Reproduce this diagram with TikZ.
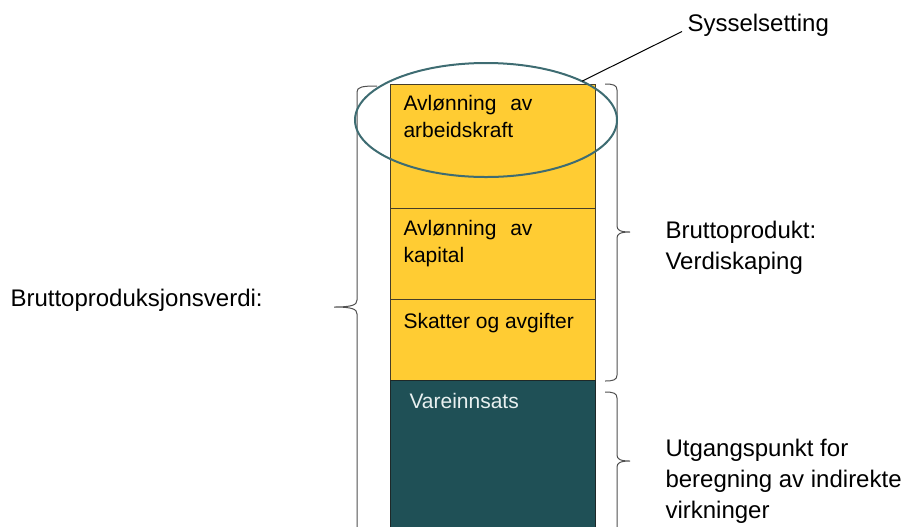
\documentclass[tikz,border=0pt]{standalone}
\usepackage{fontspec}
\setmainfont{Liberation Sans}
\usetikzlibrary{shapes.geometric}

\tikzset{every picture/.style={line width=0.75pt}}
\tikzset{
  bar/.style={draw={rgb, 255:red, 70; green, 62; blue, 40 }, fill={rgb, 255:red, 255; green, 204; blue, 51 }, minimum width=153.75pt, inner sep=0pt, outer sep=0pt, anchor=north},
  bardark/.style={bar, fill={rgb, 255:red, 31; green, 80; blue, 86 }, draw={rgb, 255:red, 30; green, 40; blue, 40 }},
  bartext/.style={font=\fontsize{15.75pt}{20.25pt}\selectfont, align=left, inner sep=0pt},
  lbl/.style={font=\fontsize{18pt}{23.25pt}\selectfont, align=left, inner sep=0pt},
  brace/.style={draw={rgb, 255:red, 80; green, 80; blue, 80 }, line width=0.75pt},
  ring/.style={ellipse, draw={rgb, 255:red, 62; green, 108; blue, 114 }, line width=1.5pt, inner sep=0pt, outer sep=0pt, minimum width=196.5pt, minimum height=85.5pt}
}

\begin{document}
\begin{tikzpicture}[x=0.75pt,y=0.75pt,yscale=-1]
\useasboundingbox (0,0) rectangle (912,526);

%Shape: Rectangle
\node [bar, minimum height=93pt] (arb) at (492.5,84) {};
%Shape: Rectangle
\node [bar, minimum height=68.25pt] (kap) at (arb.south) {};
%Shape: Rectangle
\node [bar, minimum height=60.75pt] (skatt) at (kap.south) {};
%Shape: Rectangle
\node [bardark, minimum height=135pt] (vare) at (skatt.south) {};

% Text Node
\node [bartext, anchor=north west] (arbtxt) at (403,95) {Avlønning\hspace{6pt} av\\arbeidskraft};
% Text Node
\node [bartext, anchor=north west] (kaptxt) at (403,220) {Avlønning\hspace{6pt} av\\kapital};
% Text Node
\node [bartext, anchor=base west] (skatttxt) at (403,328) {Skatter og avgifter};
% Text Node
\node [bartext, anchor=base west, text={rgb, 255:red, 232; green, 240; blue, 240 }] (varetxt) at (409,408) {Vareinnsats};

%Shape: Left Brace
\draw [brace] (377,86) .. controls (362,86) and (357,87) .. (357,92) -- (357,300) .. controls (357,305) and (352,307) .. (334,307) .. controls (352,307) and (357,309) .. (357,314) -- (357,540) ;
%Shape: Right Brace
\draw [brace] (605,84) .. controls (613,84) and (617,85) .. (617,90) -- (617,226) .. controls (617,230) and (620,232) .. (630,232) .. controls (620,232) and (617,234) .. (617,238) -- (617,375) .. controls (617,380) and (613,381) .. (605,381) ;
%Shape: Right Brace
\draw [brace] (605,392) .. controls (613,392) and (617,393) .. (617,398) -- (617,455) .. controls (617,459) and (620,461) .. (630,461) .. controls (620,461) and (617,463) .. (617,467) -- (617,540) ;

% Text Node
\node [lbl, anchor=base west] (bpv) at (10,306) {Bruttoproduksjonsverdi:};
% Text Node
\node [lbl, anchor=north west] (bp) at (665,220.5) {Bruttoprodukt:\\Verdiskaping};
% Text Node
\node [lbl, anchor=north west] (utg) at (665,438.5) {Utgangspunkt for\\beregning av indirekte\\virkninger};
% Text Node
\node [lbl, anchor=base west, inner xsep=3.75pt] (syss) at (682,31.5) {Sysselsetting};

%Shape: Ellipse
\node [ring] (ell) at (486,120) {};
%Straight Lines
\draw (ell.22.5) -- (syss.base west) ;

\end{tikzpicture}
\end{document}
